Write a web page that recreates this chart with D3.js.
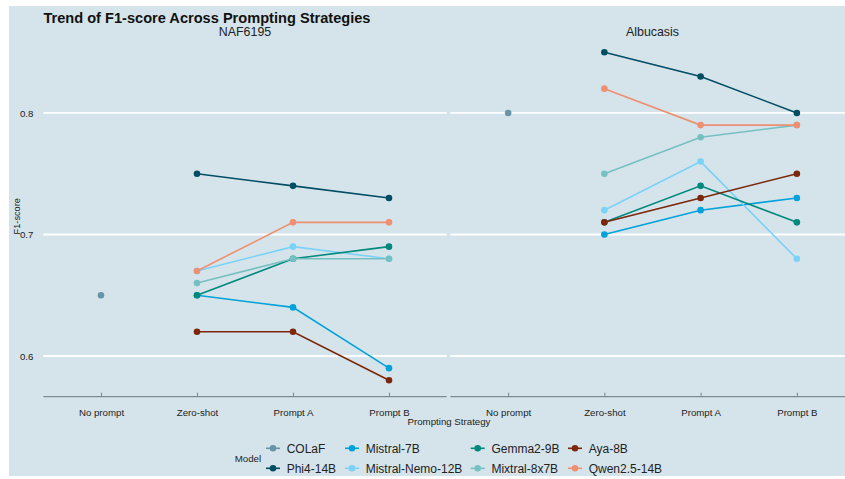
<!DOCTYPE html>
<html>
<head>
<meta charset="utf-8">
<script src="https://cdn.jsdelivr.net/npm/d3@7"></script>
<style>
  html, body { margin: 0; padding: 0; background: #ffffff; }
  svg { display: block; font-family: "Liberation Sans", Arial, sans-serif; }
</style>
</head>
<body>
<svg id="chart" width="845" height="479"></svg>
<script>
// ---------- data ----------
const strategies = ["No prompt", "Zero-shot", "Prompt A", "Prompt B"];
const datasets = ["NAF6195", "Albucasis"];
const models = ["COLaF", "Phi4-14B", "Mistral-7B", "Mistral-Nemo-12B", "Gemma2-9B", "Mixtral-8x7B", "Aya-8B", "Qwen2.5-14B"];
const modelColors = ["#6794a7", "#014d64", "#01a2d9", "#7ad2f6", "#00887d", "#76c0c1", "#7c260b", "#ee8f71"];
const yTicks = [0.6, 0.7, 0.8];

// values per model, per strategy (null = not evaluated)
const naf6195 = {
  "COLaF":            [0.65, null, null, null],
  "Phi4-14B":         [null, 0.75, 0.74, 0.73],
  "Mistral-7B":       [null, 0.65, 0.64, 0.59],
  "Mistral-Nemo-12B": [null, 0.67, 0.69, 0.68],
  "Gemma2-9B":        [null, 0.65, 0.68, 0.69],
  "Mixtral-8x7B":     [null, 0.66, 0.68, 0.68],
  "Aya-8B":           [null, 0.62, 0.62, 0.58],
  "Qwen2.5-14B":      [null, 0.67, 0.71, 0.71]
};
const albucasis = {
  "COLaF":            [0.80, null, null, null],
  "Phi4-14B":         [null, 0.85, 0.83, 0.80],
  "Mistral-7B":       [null, 0.70, 0.72, 0.73],
  "Mistral-Nemo-12B": [null, 0.72, 0.76, 0.68],
  "Gemma2-9B":        [null, 0.71, 0.74, 0.71],
  "Mixtral-8x7B":     [null, 0.75, 0.78, 0.79],
  "Aya-8B":           [null, 0.71, 0.73, 0.75],
  "Qwen2.5-14B":      [null, 0.82, 0.79, 0.79]
};
const panelData = [naf6195, albucasis];

// ---------- layout ----------
const svg = d3.select("#chart");
const W = 845, H = 479;
const bg = "#d5e4eb";
svg.append("rect").attr("x", 9).attr("y", 6).attr("width", W - 9).attr("height", 470).attr("fill", bg);

const panelTop = 35.8, panelBottom = 396.7;
const panels = [{x0: 43.4, x1: 446.6}, {x0: 450.4, x1: 854.6}];

const color = d3.scaleOrdinal().domain(models).range(modelColors);

// shared y scale (ggplot-like 5% expansion)
const allVals = [];
panelData.forEach(pd => models.forEach(m => pd[m].forEach(v => { if (v != null) allVals.push(v); })));
const [ymin, ymax] = d3.extent(allVals);
const pad = (ymax - ymin) * 0.05;
const y = d3.scaleLinear().domain([ymin - pad, ymax + pad]).range([panelBottom, panelTop]);

const textColor = "#222";
const axisColor = "#7d8a92";

// title
svg.append("text").attr("x", 43.4).attr("y", 23)
  .attr("font-size", 14.6).attr("font-weight", "bold").attr("fill", "#111")
  .text("Trend of F1-score Across Prompting Strategies");

panels.forEach((p, i) => {
  const x = d3.scalePoint().domain(strategies).range([p.x0, p.x1]).padding(0.6);
  const g = svg.append("g");

  // gridlines
  g.selectAll("line.grid").data(yTicks).join("line")
    .attr("x1", p.x0).attr("x2", p.x1)
    .attr("y1", d => y(d)).attr("y2", d => y(d))
    .attr("stroke", "#ffffff").attr("stroke-width", 1.8);

  // strip title
  g.append("text").attr("x", (p.x0 + p.x1) / 2).attr("y", 36)
    .attr("text-anchor", "middle").attr("font-size", 12.4).attr("fill", textColor)
    .text(datasets[i]);

  // x axis (inward ticks)
  const xAxis = d3.axisBottom(x).tickSizeInner(-4).tickSizeOuter(0).tickPadding(12);
  const ax = g.append("g").attr("transform", `translate(0,${panelBottom})`).call(xAxis);
  ax.select(".domain").attr("stroke", axisColor).attr("stroke-width", 1.2)
    .attr("d", `M${p.x0},0H${p.x1}`);
  ax.selectAll(".tick line").attr("stroke", axisColor).attr("stroke-width", 1.1);
  ax.selectAll(".tick text").attr("font-size", 9.7).attr("fill", textColor)
    .attr("font-family", "Liberation Sans, Arial, sans-serif");

  const pd = panelData[i];
  const line = d3.line().defined(d => d.v != null).x(d => x(d.s)).y(d => y(d.v));
  const series = models.map(m => ({m, pts: strategies.map((s, k) => ({s, v: pd[m][k]}))}));

  g.selectAll("path.series").data(series).join("path")
    .attr("d", d => line(d.pts))
    .attr("fill", "none").attr("stroke", d => color(d.m)).attr("stroke-width", 1.6);

  series.forEach(d => {
    g.selectAll(null).data(d.pts.filter(q => q.v != null)).join("circle")
      .attr("cx", q => x(q.s)).attr("cy", q => y(q.v)).attr("r", 3.3)
      .attr("fill", color(d.m));
  });
});

// y axis labels (left panel)
const yAxis = d3.axisLeft(y).tickValues(yTicks).tickSize(0).tickPadding(10).tickFormat(d3.format(".1f"));
const yg = svg.append("g").attr("transform", `translate(43.4,0)`).call(yAxis);
yg.select(".domain").remove();
yg.selectAll(".tick text").attr("font-size", 9.7).attr("fill", textColor)
  .attr("font-family", "Liberation Sans, Arial, sans-serif");

// axis titles
svg.append("text").attr("transform", `translate(20,${(panelTop + panelBottom) / 2}) rotate(-90)`)
  .attr("text-anchor", "middle").attr("font-size", 9.2).attr("fill", textColor).text("F1-score");
svg.append("text").attr("x", 449).attr("y", 424.5)
  .attr("text-anchor", "middle").attr("font-size", 9.7).attr("fill", textColor).text("Prompting Strategy");

// legend
const legendColX = [266, 345, 470.7, 568];
const legendRowY = [448.3, 468.3];
svg.append("text").attr("x", 234.7).attr("y", 462.3).attr("font-size", 9.7).attr("fill", textColor).text("Model");
const lg = svg.append("g");
models.forEach((m, k) => {
  const col = Math.floor(k / 2), row = k % 2;
  const kx = legendColX[col], ky = legendRowY[row];
  const item = lg.append("g");
  item.append("line").attr("x1", kx).attr("x2", kx + 14).attr("y1", ky).attr("y2", ky)
    .attr("stroke", color(m)).attr("stroke-width", 1.6);
  item.append("circle").attr("cx", kx + 7).attr("cy", ky).attr("r", 3.3).attr("fill", color(m));
  item.append("text").attr("x", kx + 20.7).attr("y", ky + 4.3)
    .attr("font-size", 12).attr("fill", textColor).text(m);
});
</script>
</body>
</html>
